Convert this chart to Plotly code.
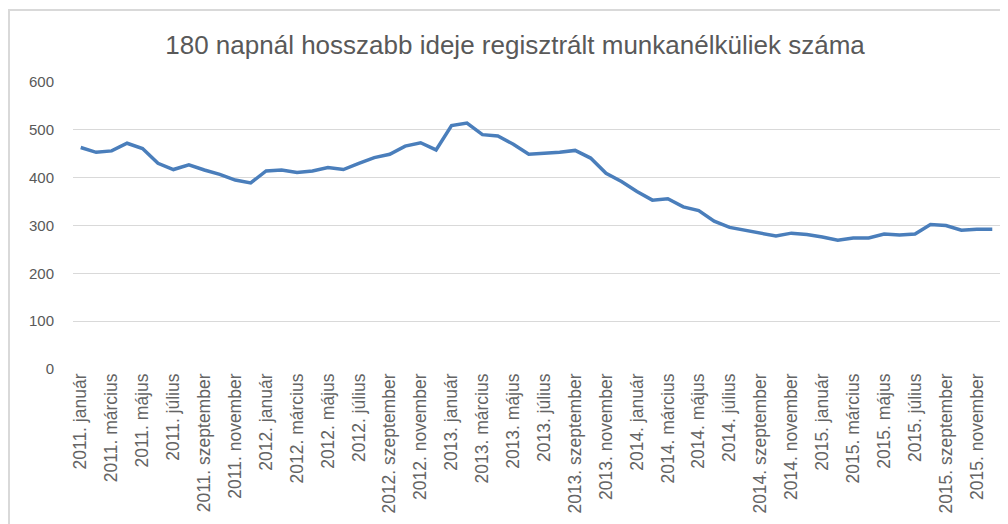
import plotly.graph_objects as go

years = [2011, 2012, 2013, 2014, 2015]
month_names = ["január", "február", "március", "április", "május", "június",
               "július", "augusztus", "szeptember", "október", "november", "december"]

values = [
    463, 453, 456, 472, 461, 430, 417, 427, 416, 407, 395, 389,   # 2011
    414, 416, 411, 414, 421, 417, 430, 442, 449, 466, 473, 458,   # 2012
    509, 514, 490, 487, 470, 449, 451, 453, 457, 441, 409, 392,   # 2013
    371, 353, 356, 339, 331, 309, 296, 290, 283, 278, 284, 281,   # 2014
    276, 269, 274, 274, 282, 280, 282, 302, 300, 290, 292, 292,   # 2015
]

categories = [f"{y}. {m}" for y in years for m in month_names]
tick_labels = categories[::2]

title_text = "180 napnál hosszabb ideje regisztrált munkanélküliek száma"
y_ticks = [0, 100, 200, 300, 400, 500, 600]

W, H = 1000, 516
L, R, T, B = 65, 8, 74, 155
pw, ph = W - L - R, H - T - B

fig = go.Figure()
fig.add_trace(go.Scatter(
    x=categories, y=values, mode="lines",
    line=dict(color="#4A7EBB", width=3.5),
    hoverinfo="x+y", showlegend=False,
))

font_family = "Liberation Sans, Arial, sans-serif"
fig.update_layout(
    width=W, height=H,
    margin=dict(l=L, r=R, t=T, b=B),
    paper_bgcolor="white", plot_bgcolor="white",
    title=dict(text=title_text, x=(507) / W, xanchor="center", y=1 - 37 / H, yanchor="middle",
               font=dict(family=font_family, size=26, color="#595959")),
    xaxis=dict(
        type="category", tickmode="array", tickvals=tick_labels, ticktext=tick_labels,
        tickangle=-90, showgrid=False, showline=False, zeroline=False, ticks="",
        tickfont=dict(family=font_family, size=17.5, color="#646464"),
        range=[-0.5, len(categories) - 0.5],
    ),
    yaxis=dict(
        range=[0, 600], tickvals=y_ticks, showgrid=True, gridcolor="#D9D9D9", gridwidth=1,
        zeroline=False, showline=False, ticks="",
        tickfont=dict(family=font_family, size=15, color="#595959"),
        ticklabelstandoff=18,
    ),
    shapes=[dict(type="rect", xref="paper", yref="paper",
                 x0=(1 - L) / pw, x1=(995 - L) / pw,
                 y0=(H - B - 530) / ph, y1=(H - B - 2) / ph,
                 line=dict(color="#D9D9D9", width=2), layer="below")],
)

fig.write_html("out.html")
